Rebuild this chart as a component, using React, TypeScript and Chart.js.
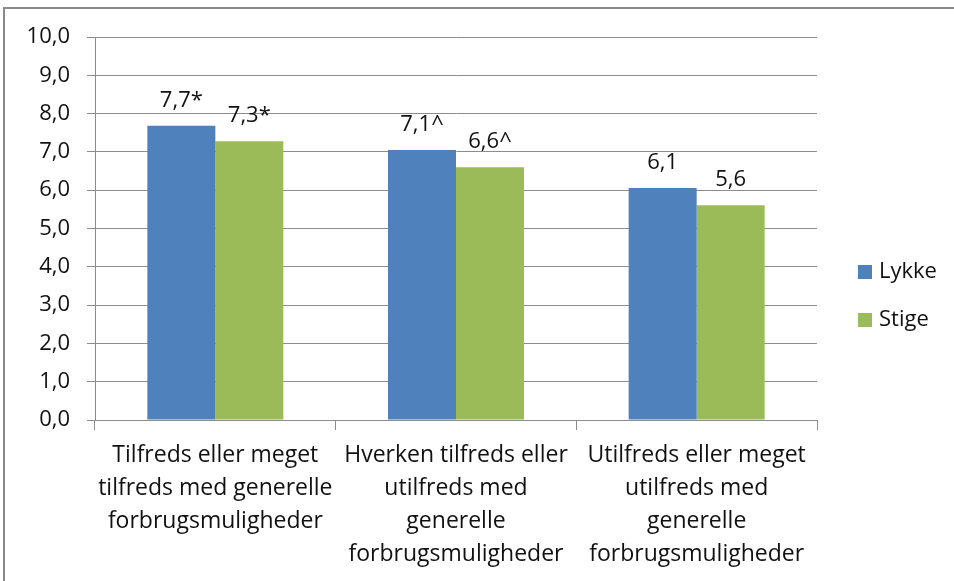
import React, { useEffect, useRef } from "react";
import { Chart, registerables } from "chart.js";

Chart.register(...registerables);

const categories: string[][] = [
  ["Tilfreds eller meget", "tilfreds med generelle", "forbrugsmuligheder"],
  ["Hverken tilfreds eller", "utilfreds med", "generelle", "forbrugsmuligheder"],
  ["Utilfreds eller meget", "utilfreds med", "generelle", "forbrugsmuligheder"],
];
const lykkeValues = [7.68, 7.05, 6.06];
const stigeValues = [7.28, 6.6, 5.61];
const lykkeLabels = ["7,7*", "7,1^", "6,1"];
const stigeLabels = ["7,3*", "6,6^", "5,6"];
const seriesNames = ["Lykke", "Stige"];
const seriesColors = ["#4F81BD", "#9BBB59"];

const FONT = "'Open Sans', sans-serif";

export default function App() {
  const ref = useRef<HTMLCanvasElement | null>(null);
  useEffect(() => {
    if (!ref.current) return;
    const labelSets = [lykkeLabels, stigeLabels];
    const valueLabels = {
      id: "valueLabels",
      afterDatasetsDraw(chart: any) {
        const ctx = chart.ctx;
        ctx.save();
        ctx.font = `22px ${FONT}`;
        ctx.fillStyle = "#111";
        ctx.textAlign = "center";
        ctx.textBaseline = "middle";
        chart.data.datasets.forEach((_: any, di: number) => {
          const meta = chart.getDatasetMeta(di);
          meta.data.forEach((el: any, i: number) => {
            ctx.fillText(labelSets[di][i], el.x, el.y - 25);
          });
        });
        ctx.restore();
      },
    };
    const customLegend = {
      id: "customLegend",
      afterDraw(chart: any) {
        const ctx = chart.ctx;
        ctx.save();
        ctx.font = `22px ${FONT}`;
        ctx.textBaseline = "middle";
        ctx.textAlign = "left";
        const x0 = chart.chartArea.right + 41;
        const ys = [272, 320];
        seriesNames.forEach((n, i) => {
          ctx.fillStyle = seriesColors[i];
          ctx.fillRect(x0, ys[i] - 7, 14, 14);
          ctx.fillStyle = "#111";
          ctx.fillText(n, x0 + 21, ys[i]);
        });
        ctx.restore();
      },
    };
    const chart = new Chart(ref.current, {
      type: "bar",
      data: {
        labels: categories,
        datasets: [
          { label: seriesNames[0], data: lykkeValues, backgroundColor: seriesColors[0] },
          { label: seriesNames[1], data: stigeValues, backgroundColor: seriesColors[1] },
        ],
      },
      options: {
        animation: false,
        responsive: false,
        maintainAspectRatio: false,
        layout: { padding: { top: 37, right: 137, left: 0, bottom: 0 } },
        datasets: { bar: { categoryPercentage: 0.565, barPercentage: 1 } },
        plugins: { legend: { display: false }, tooltip: { enabled: false } },
        scales: {
          x: {
            grid: {
              offset: true,
              drawOnChartArea: false,
              color: "#8c8c8c",
              tickLength: 10,
            },
            border: { color: "#8c8c8c" },
            ticks: {
              color: "#111",
              font: { family: FONT, size: 23, lineHeight: 1.435 },
              padding: 9,
              maxRotation: 0,
              autoSkip: false,
            },
            afterFit: (s: any) => {
              s.height = 161;
            },
          },
          y: {
            min: 0,
            max: 10,
            ticks: {
              stepSize: 1,
              color: "#111",
              padding: 17,
              font: { family: FONT, size: 22 },
              callback: (v: any) => Number(v).toFixed(1).replace(".", ","),
            },
            grid: { color: "#8c8c8c", tickLength: 8 },
            border: { color: "#8c8c8c" },
            afterFit: (s: any) => {
              s.width = 95;
            },
          },
        },
      },
      plugins: [valueLabels, customLegend],
    } as any);
    return () => chart.destroy();
  }, []);
  return (
    <div style={{ position: "fixed", left: 0, top: 0, width: 954, height: 581, background: "#fff" }}>
      <canvas ref={ref} width={954} height={581} style={{ position: "absolute", left: 0, top: 0 }} />
      <div
        style={{
          position: "absolute",
          left: 3,
          top: 7,
          right: 0,
          bottom: 0,
          borderLeft: "2px solid #8a8a8a",
          borderTop: "2px solid #8a8a8a",
          pointerEvents: "none",
        }}
      />
    </div>
  );
}
